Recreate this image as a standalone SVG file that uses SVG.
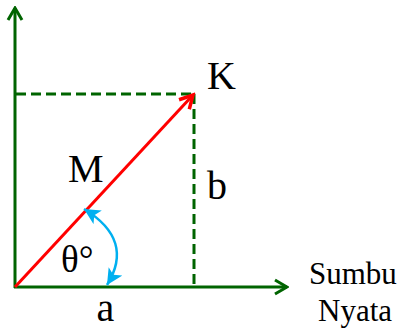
<svg xmlns="http://www.w3.org/2000/svg" width="404" height="329" viewBox="0 0 404 329">
<style>
.ax{stroke:#006400;stroke-width:3;fill:none}
.ds{stroke:#006400;stroke-width:3;fill:none;stroke-dasharray:10,5}
.t{font-family:"Liberation Serif","Times New Roman",serif;fill:#000}
</style>
<defs>
<marker id="ga" markerWidth="16" markerHeight="18" refX="14" refY="9" orient="auto" markerUnits="userSpaceOnUse"><path d="M2,2 L14,9 L2,16" fill="none" stroke="#006400" stroke-width="3"/></marker>
<marker id="ra" markerWidth="18" markerHeight="18" refX="15" refY="9" orient="auto" markerUnits="userSpaceOnUse"><path d="M2,2 L15,9 L2,16" fill="none" stroke="#ff0000" stroke-width="3.5"/></marker>
<marker id="ba" markerWidth="18" markerHeight="16" refX="16" refY="8" orient="auto-start-reverse" markerUnits="userSpaceOnUse"><path d="M0,0 L16,8 L0,16 L4,8 Z" fill="#00b0f0"/></marker>
</defs>
<g id="connectors">
<line class="ds" x1="16" y1="94" x2="194" y2="94"/>
<line class="ds" x1="194" y1="94" x2="194" y2="285"/>
<line class="ax" x1="15" y1="288" x2="15" y2="8" marker-end="url(#ga)"/>
<line class="ax" x1="14" y1="287" x2="287" y2="287" marker-end="url(#ga)"/>
<line x1="15" y1="287" x2="193" y2="95" stroke="#ff0000" stroke-width="3" marker-end="url(#ra)"/>
<path d="M 84 209 Q 135 240 107 285" fill="none" stroke="#00b0f0" stroke-width="2.5" marker-start="url(#ba)" marker-end="url(#ba)"/>
</g>
<g id="labels">
<text class="t" x="207" y="89" font-size="40">K</text>
<text class="t" x="68" y="182" font-size="40">M</text>
<text class="t" x="207" y="199" font-size="40">b</text>
<text class="t" x="61" y="272" font-size="37">θ°</text>
<text class="t" x="96.5" y="321" font-size="40">a</text>
<text class="t" x="309" y="284" font-size="31">Sumbu</text>
<text class="t" x="318" y="321" font-size="31">Nyata</text>
</g>
</svg>
